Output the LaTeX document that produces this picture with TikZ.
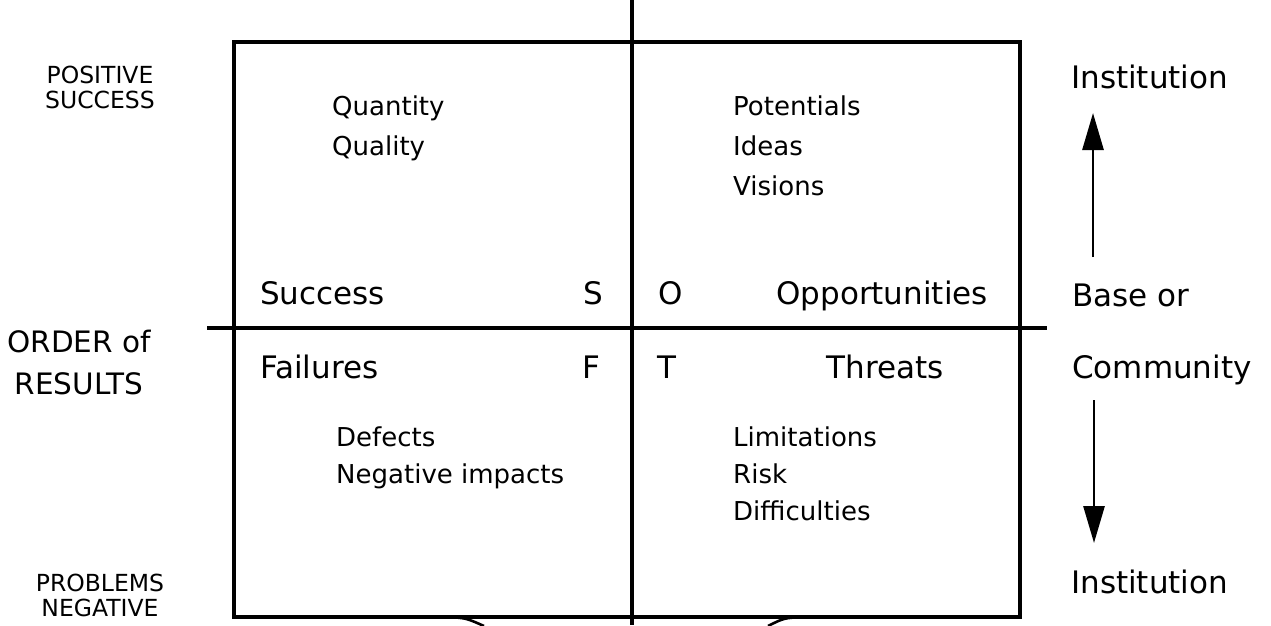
\documentclass[tikz,border=0pt]{standalone}
\usepackage{fontspec}
\setmainfont{DejaVu Sans}
\usetikzlibrary{arrows.meta}

\newcommand{\bigtext}{\fontsize{31}{36}\selectfont}
\newcommand{\sidetext}{\fontsize{29.5}{34}\selectfont}
\newcommand{\smalltext}{\fontsize{26}{30}\selectfont}
\newcommand{\captext}{\fontsize{23.5}{26}\selectfont}

\tikzset{
  frame/.style={line width=3.2pt},
  axis/.style={line width=4pt},
  big/.style={inner sep=0pt, font=\bigtext},
  side/.style={inner sep=0pt, font=\sidetext},
  small/.style={inner sep=0pt, font=\smalltext},
  caps/.style={inner sep=0pt, font=\captext, align=center},
  updown/.style={line width=2.8pt, -{Triangle[length=37pt,width=21pt]}},
}

\begin{document}
\begin{tikzpicture}[x=1pt,y=-1pt]
  \fill[white] (0,0) rectangle (1271,625);
  \useasboundingbox (0,0) rectangle (1271,625);

  % outer frame and the two axes
  \draw[frame] (234,42) rectangle (1020,617);
  \coordinate (vtop) at (632,0);
  \coordinate (vbot) at (632,625);
  \coordinate (hleft) at (207,328);
  \coordinate (hright) at (1047,328);
  \draw[axis] (vtop) -- (vbot);
  \draw[axis] (hleft) -- (hright);

  % braces starting under the frame
  \coordinate (bl) at (447,617);
  \coordinate (br) at (803,617);
  \draw[line width=2.6pt] (bl) .. controls (466,618) .. (484,626);
  \draw[line width=2.6pt] (br) .. controls (784,618) .. (768,626);

  % left side scale
  \node[caps, anchor=base] (pos1) at (100,83) {POSITIVE};
  \node[caps, anchor=base] (pos2) at (100,108) {SUCCESS};
  \node[side, anchor=base] (ord1) at (79,352) {ORDER of};
  \node[side, anchor=base] (ord2) at (79,394) {RESULTS};
  \node[caps, anchor=base] (neg1) at (100,591) {PROBLEMS};
  \node[caps, anchor=base] (neg2) at (100,616) {NEGATIVE};

  % quadrant headings
  \node[big, anchor=base west] (succ) at (260,304) {Success};
  \node[big, anchor=base] (S) at (593,304) {S};
  \node[big, anchor=base] (O) at (671,304) {O};
  \node[big, anchor=base east] (opp) at (988,304) {Opportunities};
  \node[big, anchor=base west] (fail) at (260,378) {Failures};
  \node[big, anchor=base] (F) at (591,378) {F};
  \node[big, anchor=base] (T) at (667,378) {T};
  \node[big, anchor=base] (thr) at (885,378) {Threats};

  % quadrant contents
  \node[small, anchor=base west] (q1) at (332,115) {Quantity};
  \node[small, anchor=base west] (q2) at (332,155) {Quality};
  \node[small, anchor=base west] (p1) at (733,115) {Potentials};
  \node[small, anchor=base west] (p2) at (733,155) {Ideas};
  \node[small, anchor=base west] (p3) at (733,195) {Visions};
  \node[small, anchor=base west] (d1) at (336,446) {Defects};
  \node[small, anchor=base west] (d2) at (336,483) {Negative impacts};
  \node[small, anchor=base west] (l1) at (733,446) {Limitations};
  \node[small, anchor=base west] (l2) at (733,483) {Risk};
  \node[small, anchor=base west] (l3) at (733,520) {Difficulties};

  % right side scale
  \node[big, anchor=base west] (inst1) at (1071,88) {Institution};
  \node[big, anchor=base west] (base) at (1072,306) {Base or};
  \node[big, anchor=base west] (comm) at (1072,378) {Community};
  \node[big, anchor=base west] (inst2) at (1071,593) {Institution};

  \coordinate (uptail) at (1093,257);
  \coordinate (uptip) at (1093,113);
  \coordinate (dntail) at (1094,400);
  \coordinate (dntip) at (1094,543);
  \draw[updown] (uptail) -- (uptip);
  \draw[updown] (dntail) -- (dntip);
\end{tikzpicture}
\end{document}
